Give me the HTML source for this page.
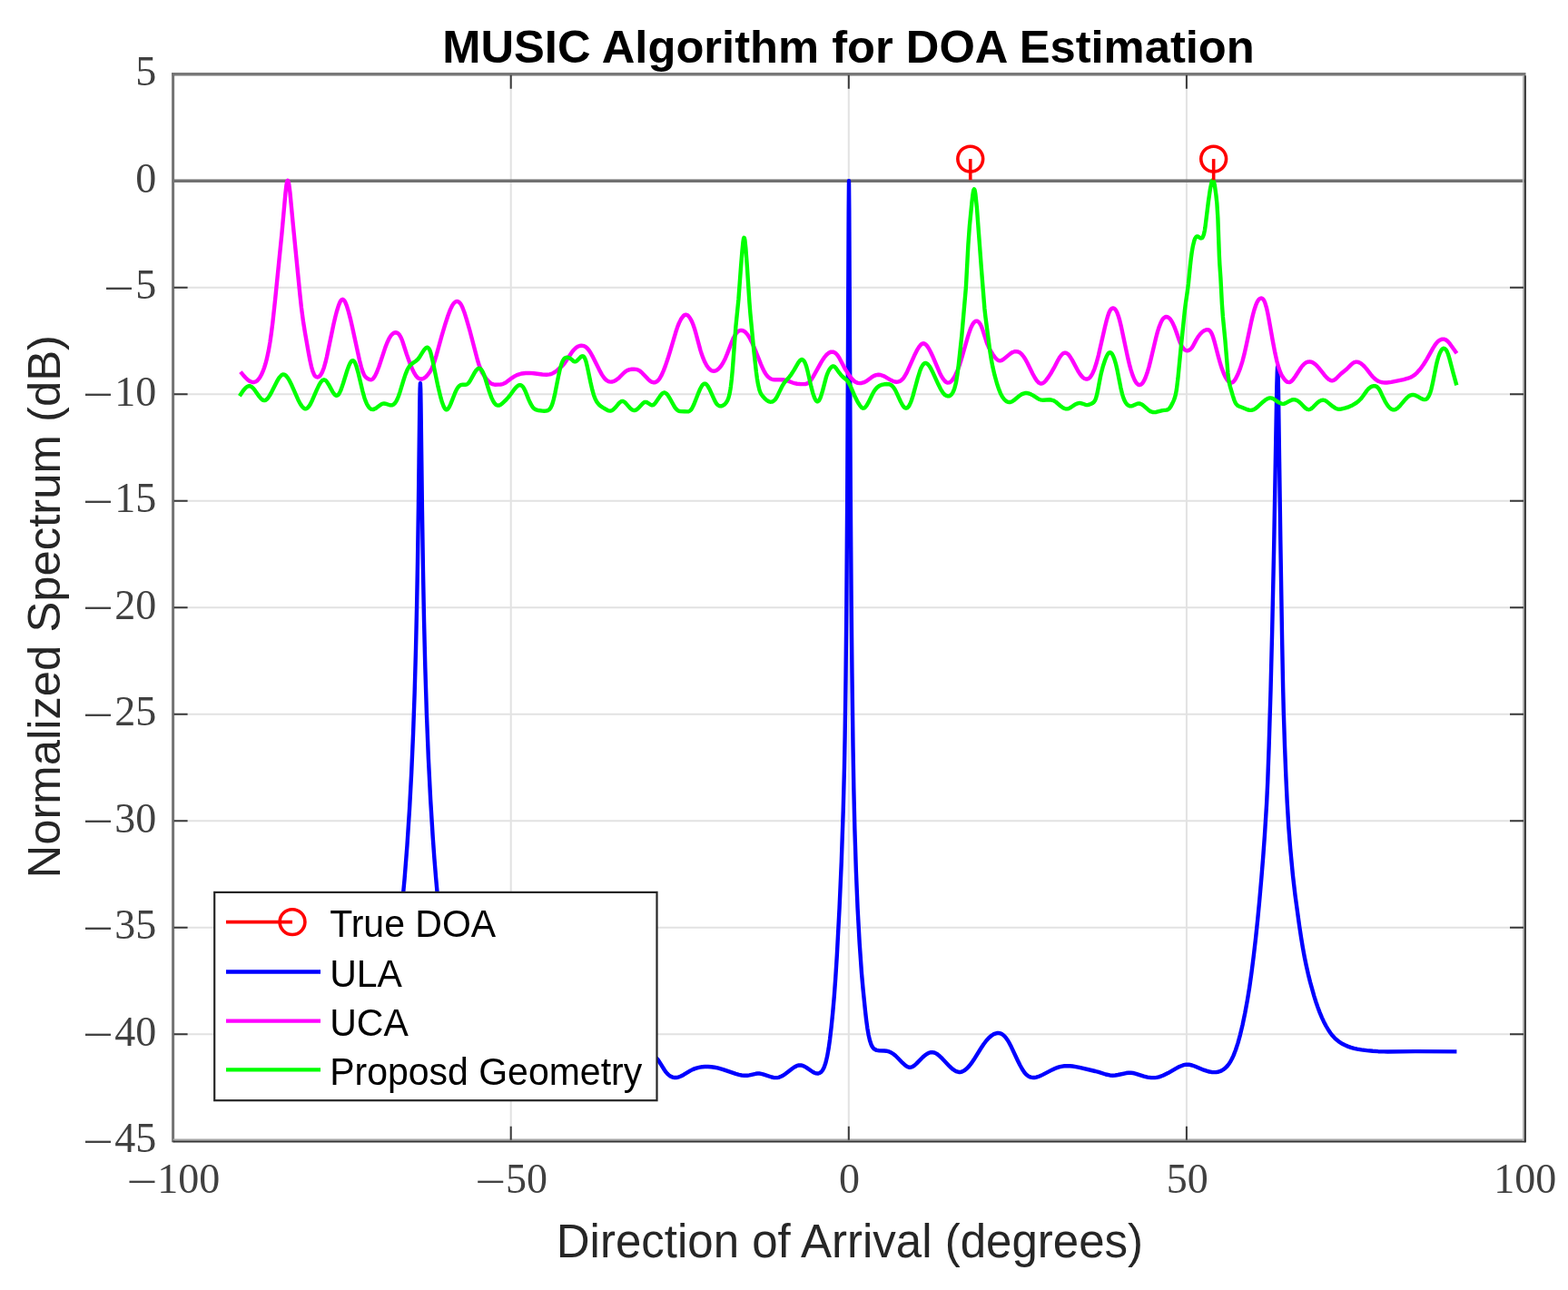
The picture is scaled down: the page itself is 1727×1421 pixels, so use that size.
<!DOCTYPE html>
<html><head><meta charset="utf-8"><title>MUSIC Algorithm for DOA Estimation</title>
<style>html,body{margin:0;padding:0;background:#fff;overflow:hidden}svg{display:block}</style>
</head><body>
<svg width="1727" height="1421" viewBox="0 0 1727 1421"><rect x="0" y="0" width="1727" height="1421" fill="#ffffff"/>
<path d="M562.70,81.80V1256.80 M934.80,81.80V1256.80 M1306.90,81.80V1256.80 M190.60,199.30H1679.00 M190.60,316.80H1679.00 M190.60,434.30H1679.00 M190.60,551.80H1679.00 M190.60,669.30H1679.00 M190.60,786.80H1679.00 M190.60,904.30H1679.00 M190.60,1021.80H1679.00 M190.60,1139.30H1679.00" stroke="#e2e2e2" stroke-width="2" fill="none"/>
<path d="M190.60,199.30H1679.00" stroke="#707070" stroke-width="3.6" fill="none"/>
<path d="M265.90,1175.00L276.40,1179.47L283.90,1182.18L287.40,1183.20L290.90,1184.02L293.90,1184.54L296.90,1184.88L301.90,1184.95L307.40,1184.38L313.40,1183.20L325.40,1180.18L330.40,1179.07L335.90,1178.23L340.40,1177.98L345.40,1178.26L350.90,1179.11L356.40,1180.35L369.90,1183.87L373.40,1184.62L376.90,1185.20L380.40,1185.55L383.90,1185.61L387.40,1185.38L390.90,1184.83L393.90,1184.07L396.40,1183.19L398.90,1182.04L401.40,1180.55L403.40,1179.05L405.40,1177.21L407.40,1174.97L408.90,1172.97L410.40,1170.65L411.90,1167.97L413.40,1164.89L414.90,1161.38L416.40,1157.40L417.90,1152.92L420.90,1142.41L423.15,1133.14L425.45,1122.45L427.75,1110.54L430.00,1097.72L432.25,1083.71L434.45,1068.79L436.55,1053.31L438.60,1036.90L442.30,1003.35L445.60,967.87L448.50,930.64L451.10,890.34L453.20,850.84L455.05,808.44L456.65,763.25L458.05,713.84L459.10,667.65L460.00,618.88L460.90,558.21L462.30,444.98L462.60,428.31L462.90,422.08L463.20,428.31L463.50,444.98L464.95,561.94L465.95,627.74L467.05,684.14L468.30,734.63L469.95,787.06L471.90,835.79L474.15,880.70L476.75,922.75L478.40,945.57L480.15,967.29L482.00,987.98L484.00,1008.22L486.15,1027.94L488.40,1046.69L490.80,1064.88L493.30,1082.13L495.95,1098.70L498.60,1113.64L501.25,1126.97L503.90,1138.63L506.40,1148.05L508.90,1155.89L511.40,1162.19L513.90,1167.04L516.40,1170.65L517.90,1172.32L519.40,1173.68L520.90,1174.77L522.40,1175.64L523.90,1176.33L525.90,1177.04L530.40,1178.05L540.40,1179.39L545.40,1180.24L561.90,1183.96L566.90,1184.96L571.90,1185.69L576.40,1186.01L581.40,1185.87L586.90,1185.10L592.40,1183.87L604.40,1180.56L609.40,1179.33L614.90,1178.37L619.40,1178.01L623.90,1178.14L628.90,1178.78L633.90,1179.77L646.40,1182.67L652.40,1183.68L655.90,1183.99L658.90,1184.04L661.90,1183.85L664.90,1183.42L667.90,1182.76L670.90,1181.91L673.90,1180.87L677.40,1179.45L681.90,1177.34L686.40,1174.98L700.40,1166.79L704.90,1164.42L707.40,1163.34L709.90,1162.49L712.40,1161.93L714.40,1161.74L716.40,1161.85L718.40,1162.36L720.40,1163.34L721.90,1164.44L723.90,1166.46L725.40,1168.42L731.90,1178.75L733.40,1180.87L734.90,1182.65L736.90,1184.50L738.90,1185.80L740.90,1186.60L742.90,1186.96L744.40,1186.98L746.40,1186.71L747.90,1186.31L749.90,1185.54L752.90,1183.99L760.40,1179.39L762.90,1178.14L765.40,1177.12L767.90,1176.32L770.90,1175.63L773.40,1175.25L776.40,1175.02L779.90,1175.00L783.40,1175.25L786.90,1175.74L790.40,1176.45L796.40,1178.14L810.40,1182.90L813.90,1183.87L816.90,1184.49L819.90,1184.81L822.90,1184.76L825.40,1184.39L832.40,1182.77L834.40,1182.53L836.40,1182.54L838.40,1182.82L840.40,1183.30L849.90,1186.49L851.90,1186.94L853.90,1187.16L855.90,1187.10L857.40,1186.83L858.90,1186.36L860.90,1185.47L862.90,1184.33L864.90,1182.99L872.40,1177.24L874.90,1175.53L877.40,1174.21L879.90,1173.47L881.40,1173.37L882.40,1173.47L883.90,1173.84L885.40,1174.45L888.40,1176.18L895.15,1180.80L897.05,1181.78L898.75,1182.33L900.80,1182.47L901.75,1182.30L902.65,1181.97L904.35,1180.82L905.85,1179.07L906.85,1177.40L907.75,1175.47L909.45,1170.49L911.05,1163.82L912.60,1155.19L914.10,1144.61L915.65,1131.35L917.20,1115.75L918.75,1097.82L920.25,1077.25L921.80,1052.69L924.55,1000.33L926.80,949.06L928.70,893.34L929.95,845.65L930.60,811.30L931.50,747.37L932.25,675.08L933.20,546.72L934.70,231.64L935.00,199.30L935.30,231.64L936.75,538.04L937.65,662.07L938.45,741.16L939.50,822.05L940.30,867.49L941.35,912.19L942.90,960.36L944.60,1000.95L946.65,1038.40L949.05,1072.68L950.60,1090.00L953.00,1113.60L954.15,1123.78L955.30,1132.30L956.60,1139.96L958.00,1146.06L959.50,1150.54L960.30,1152.24L961.15,1153.64L962.10,1154.81L963.15,1155.73L964.30,1156.42L965.65,1156.92L968.40,1157.37L973.95,1157.50L976.40,1157.73L978.90,1158.34L981.40,1159.43L983.90,1161.00L986.40,1163.03L988.90,1165.46L993.90,1170.73L996.90,1173.44L999.40,1175.03L1000.90,1175.57L1001.90,1175.73L1002.90,1175.69L1004.40,1175.29L1005.40,1174.80L1006.90,1173.80L1009.40,1171.60L1016.40,1164.51L1018.90,1162.35L1020.90,1160.94L1022.90,1159.88L1024.90,1159.24L1026.90,1159.09L1028.40,1159.34L1029.90,1159.88L1031.40,1160.67L1032.90,1161.68L1034.90,1163.31L1037.90,1166.20L1045.90,1174.65L1047.90,1176.54L1049.90,1178.18L1051.90,1179.51L1053.90,1180.46L1055.90,1180.96L1057.40,1180.99L1058.40,1180.84L1059.90,1180.39L1062.40,1179.04L1064.90,1177.01L1067.40,1174.37L1069.90,1171.20L1072.40,1167.58L1080.40,1154.76L1083.40,1150.24L1086.40,1146.29L1089.40,1143.02L1092.40,1140.50L1093.90,1139.55L1095.40,1138.81L1096.90,1138.30L1098.40,1138.02L1099.90,1137.99L1100.90,1138.12L1102.40,1138.56L1103.40,1139.03L1105.40,1140.43L1107.40,1142.48L1109.90,1146.00L1111.90,1149.45L1113.90,1153.32L1120.90,1168.19L1123.40,1173.25L1125.90,1177.75L1128.40,1181.45L1130.40,1183.68L1131.40,1184.55L1132.90,1185.59L1133.90,1186.11L1135.40,1186.66L1137.90,1187.03L1139.40,1186.98L1141.40,1186.65L1144.90,1185.50L1148.40,1183.87L1158.90,1178.40L1161.90,1177.03L1164.90,1175.86L1167.40,1175.10L1169.90,1174.56L1172.40,1174.24L1175.40,1174.11L1178.40,1174.21L1181.40,1174.50L1184.90,1175.05L1188.90,1175.86L1206.40,1180.00L1209.90,1180.97L1217.90,1183.48L1222.40,1184.47L1225.40,1184.70L1228.40,1184.51L1231.40,1184.00L1240.40,1182.03L1242.90,1181.73L1245.40,1181.70L1247.90,1181.98L1250.40,1182.53L1259.90,1185.55L1263.90,1186.56L1267.90,1187.13L1271.90,1187.13L1273.90,1186.88L1276.40,1186.33L1280.90,1184.77L1286.40,1182.10L1295.40,1176.87L1298.90,1175.02L1302.90,1173.42L1304.90,1172.91L1306.40,1172.69L1307.90,1172.62L1309.40,1172.72L1312.90,1173.48L1315.90,1174.55L1325.90,1178.68L1328.90,1179.70L1331.90,1180.50L1334.40,1180.96L1336.90,1181.17L1339.40,1181.08L1341.40,1180.77L1343.40,1180.21L1345.40,1179.36L1347.40,1178.20L1348.90,1177.08L1350.90,1175.21L1352.40,1173.48L1353.90,1171.44L1355.40,1169.06L1356.90,1166.29L1358.40,1163.10L1360.90,1156.78L1363.40,1149.10L1365.90,1140.07L1368.55,1128.98L1371.20,1116.26L1373.85,1101.82L1376.25,1087.04L1378.45,1071.45L1380.75,1053.26L1383.05,1033.42L1385.15,1013.41L1387.25,991.40L1389.30,967.88L1391.25,943.51L1392.95,919.90L1395.10,885.07L1396.20,861.92L1397.65,821.56L1399.55,759.36L1401.15,695.33L1403.10,605.44L1406.25,428.60L1406.75,409.96L1407.00,405.19L1407.20,403.98L1407.35,405.06L1407.55,409.73L1407.95,428.32L1410.30,594.84L1412.10,704.31L1413.10,756.43L1413.80,784.11L1415.10,823.57L1416.35,855.28L1417.70,883.74L1419.30,910.50L1421.15,934.59L1423.95,964.20L1426.55,986.58L1431.10,1019.75L1433.05,1032.68L1434.85,1043.63L1436.70,1053.73L1438.70,1063.55L1440.80,1072.85L1443.05,1081.86L1447.40,1097.34L1449.40,1103.73L1451.40,1109.56L1453.40,1114.88L1455.90,1120.87L1457.90,1125.17L1460.40,1129.99L1462.90,1134.26L1465.40,1137.99L1467.40,1140.56L1469.90,1143.30L1472.40,1145.60L1475.40,1147.89L1478.40,1149.76L1481.40,1151.31L1484.40,1152.62L1487.90,1153.88L1491.40,1154.87L1494.90,1155.62L1499.40,1156.36L1505.40,1157.12L1511.90,1157.75L1517.90,1158.18L1528.40,1158.48L1558.90,1158.09L1604.40,1158.38" stroke="#0000ff" stroke-width="4.4" fill="none" stroke-linejoin="round" stroke-linecap="butt"/>
<path d="M264.90,409.60L267.90,413.21L270.40,415.98L272.40,417.89L274.40,419.44L276.40,420.51L277.90,420.95L278.90,421.05L279.90,420.97L281.40,420.49L282.40,419.93L283.40,419.15L284.90,417.56L286.40,415.43L287.90,412.74L289.40,409.43L290.90,405.48L292.40,400.79L293.90,395.15L295.90,385.75L297.40,377.00L298.90,366.61L300.40,354.67L302.90,331.81L310.40,257.30L314.40,212.96L315.40,204.36L315.90,201.38L316.40,199.52L316.90,198.94L317.40,199.59L317.90,201.33L318.40,204.02L319.40,211.72L322.90,248.61L330.40,324.59L331.90,338.46L333.90,353.66L335.90,366.18L339.90,388.83L341.40,396.73L342.90,403.56L344.40,408.84L345.90,412.41L346.40,413.26L347.40,414.51L348.40,415.23L349.40,415.49L350.40,415.37L351.40,414.88L352.40,413.99L353.40,412.69L354.40,410.97L355.40,408.79L356.90,404.66L358.40,399.43L359.90,393.24L367.40,357.32L369.40,348.74L370.90,343.01L372.90,336.57L374.40,332.92L375.40,331.20L375.90,330.58L376.90,329.87L377.40,329.80L377.90,329.92L378.90,330.71L379.40,331.37L380.40,333.14L381.90,336.84L383.90,343.35L385.90,351.12L387.90,359.73L395.90,396.55L397.90,404.35L399.40,409.13L400.90,412.70L401.90,414.33L402.90,415.48L403.90,416.30L405.90,417.52L407.40,418.17L408.40,418.32L409.40,418.14L409.90,417.90L411.40,416.55L412.90,414.36L414.90,410.30L417.40,403.74L424.40,382.61L426.40,377.50L428.40,373.22L430.40,369.92L431.90,368.16L433.40,366.98L434.40,366.52L435.40,366.30L436.90,366.45L438.40,367.26L439.90,368.85L441.40,371.35L442.40,373.58L443.40,376.26L447.90,390.29L451.40,400.03L453.40,404.95L454.90,408.28L456.40,411.20L457.90,413.60L458.90,414.88L460.40,416.31L461.40,416.95L462.90,417.49L464.40,417.54L465.90,417.15L467.40,416.34L468.90,415.17L471.40,412.50L473.90,408.97L475.90,405.16L477.40,401.51L478.90,397.10L480.40,392.12L486.40,370.44L489.90,358.52L493.40,347.72L495.90,341.13L497.90,336.93L498.90,335.28L499.90,333.96L500.90,332.98L501.90,332.33L502.90,332.01L503.40,331.98L504.40,332.17L505.40,332.72L506.40,333.63L507.40,334.92L508.40,336.61L509.40,338.71L511.40,343.93L513.90,351.80L517.40,363.99L525.90,396.48L527.90,402.88L529.90,407.91L531.40,410.93L533.40,414.23L535.90,417.65L537.90,419.95L539.90,421.75L541.40,422.71L543.40,423.44L545.40,423.71L548.90,423.67L551.40,423.47L553.40,423.07L554.90,422.54L556.40,421.78L557.90,420.83L563.90,416.28L566.90,414.39L568.90,413.39L570.90,412.58L574.90,411.49L578.90,410.97L583.40,410.92L587.90,411.27L597.40,412.47L601.90,412.70L605.40,412.38L606.90,412.00L608.40,411.44L610.90,410.03L613.40,408.18L617.40,404.80L619.90,402.33L621.40,400.58L622.90,398.56L629.90,387.99L631.90,385.50L633.40,383.94L635.40,382.33L636.90,381.50L638.40,381.00L640.40,380.76L641.90,380.89L642.90,381.12L644.90,382.04L646.40,383.21L648.40,385.51L650.40,388.54L652.40,392.09L659.90,407.09L662.90,412.59L664.40,414.92L665.90,416.85L667.40,418.35L669.40,419.74L670.90,420.35L672.90,420.63L674.40,420.48L676.40,419.86L678.40,418.78L680.40,417.32L682.40,415.52L687.40,410.54L689.90,408.61L691.40,407.82L693.40,407.15L695.90,406.76L698.40,406.67L700.40,406.86L701.90,407.22L703.40,407.83L704.90,408.73L707.40,410.90L713.90,417.84L715.40,419.16L716.90,420.23L718.40,420.97L719.40,421.24L720.90,421.29L721.90,421.06L723.40,420.30L724.40,419.50L725.40,418.46L726.40,417.15L728.40,413.73L730.90,408.15L732.90,402.88L735.40,395.56L738.40,385.93L744.40,365.51L746.40,359.60L747.90,355.87L749.90,351.86L751.90,348.93L752.90,347.88L753.90,347.14L754.90,346.75L755.40,346.69L755.90,346.73L756.90,347.08L758.40,348.28L759.90,350.23L761.90,353.90L763.40,357.50L764.90,361.86L766.40,366.98L771.40,385.57L772.90,390.30L774.40,394.43L776.40,399.06L778.40,402.73L780.40,405.52L781.40,406.58L782.90,407.79L783.90,408.33L785.40,408.76L786.90,408.75L788.40,408.31L789.40,407.79L790.90,406.69L792.40,405.23L793.90,403.43L796.40,399.62L798.90,394.69L800.90,389.90L806.40,375.54L807.90,372.23L809.40,369.42L811.40,366.54L812.90,365.08L813.90,364.45L814.90,364.06L815.90,363.90L816.90,363.93L818.40,364.32L819.40,364.80L821.40,366.33L823.40,368.67L825.40,371.84L827.90,376.67L830.90,383.30L837.90,400.79L840.40,406.57L841.90,409.50L843.40,411.96L844.90,413.97L846.40,415.54L848.40,417.00L849.40,417.48L850.90,417.94L853.40,418.22L860.40,418.20L863.90,418.54L867.40,419.39L872.90,421.51L874.90,422.15L877.90,422.73L881.40,423.00L885.40,423.16L887.40,423.01L888.40,422.74L889.40,422.31L890.40,421.68L891.40,420.80L893.40,418.42L895.40,415.39L904.40,399.19L906.40,395.94L908.40,393.10L910.40,390.77L912.40,389.04L914.40,387.97L915.40,387.69L916.40,387.59L917.90,387.80L919.40,388.47L920.90,389.62L922.40,391.29L923.40,392.69L924.90,395.20L929.40,403.84L931.40,407.42L935.40,413.66L937.40,416.31L939.40,418.53L941.40,420.23L943.40,421.34L944.90,421.84L946.90,422.10L948.90,421.97L950.90,421.47L952.40,420.87L954.40,419.76L959.90,415.70L962.40,414.14L964.90,413.16L967.40,412.78L969.90,413.03L972.90,414.04L975.40,415.31L981.40,418.84L984.40,420.15L985.90,420.53L987.40,420.70L988.90,420.62L990.40,420.24L991.90,419.50L993.40,418.35L994.90,416.70L996.40,414.52L997.90,411.89L999.40,408.91L1006.90,392.08L1010.40,385.07L1012.40,381.87L1013.90,380.03L1015.40,378.80L1016.40,378.38L1016.90,378.30L1017.40,378.31L1018.40,378.62L1019.90,379.72L1021.40,381.49L1023.40,384.66L1024.90,387.50L1026.90,391.73L1034.90,410.46L1036.90,414.44L1038.40,416.93L1040.40,419.49L1041.90,420.78L1042.90,421.32L1043.90,421.58L1045.40,421.42L1046.40,420.96L1047.40,420.23L1048.40,419.24L1049.40,418.01L1051.40,414.86L1053.40,410.85L1055.40,405.99L1057.90,398.74L1059.90,392.13L1065.90,371.14L1067.40,366.39L1068.90,362.20L1070.40,358.77L1071.90,356.20L1073.40,354.51L1074.40,353.86L1075.40,353.60L1076.40,353.72L1076.90,353.93L1077.90,354.67L1078.90,355.85L1079.90,357.48L1080.90,359.60L1081.90,362.20L1086.40,376.17L1087.40,378.90L1088.90,382.38L1090.90,386.17L1093.40,390.18L1095.40,393.07L1097.40,395.41L1098.90,396.63L1099.90,397.12L1100.90,397.33L1102.40,397.19L1103.90,396.60L1105.40,395.67L1112.40,389.82L1113.90,388.78L1115.40,387.96L1117.40,387.28L1118.90,387.10L1120.90,387.35L1122.40,387.95L1123.90,388.92L1124.90,389.80L1126.40,391.47L1127.90,393.53L1129.40,395.92L1131.40,399.54L1137.40,411.70L1139.90,416.25L1141.40,418.53L1142.40,419.82L1143.90,421.34L1144.90,422.05L1145.90,422.47L1146.90,422.60L1148.40,422.21L1149.90,421.22L1151.90,419.17L1154.90,415.13L1157.90,410.45L1160.90,405.15L1165.40,396.58L1167.40,393.24L1168.90,391.22L1170.40,389.73L1171.90,388.83L1172.90,388.59L1173.90,388.67L1175.40,389.38L1176.90,390.71L1178.40,392.57L1180.90,396.59L1187.40,408.71L1189.40,411.86L1190.90,413.87L1192.90,415.95L1194.40,417.00L1195.90,417.56L1197.40,417.57L1198.40,417.25L1199.40,416.66L1200.40,415.77L1201.40,414.58L1202.40,413.07L1203.40,411.23L1205.40,406.55L1207.40,400.55L1209.90,391.32L1216.90,360.55L1218.40,354.41L1219.90,348.98L1221.40,344.58L1222.90,341.54L1223.40,340.86L1224.40,339.95L1224.90,339.69L1225.90,339.49L1226.90,339.69L1227.40,339.95L1228.40,340.84L1228.90,341.48L1230.40,344.29L1231.90,348.43L1233.40,353.70L1234.90,359.88L1241.90,392.88L1243.90,401.33L1245.40,406.91L1247.40,413.15L1249.40,418.01L1250.40,419.92L1251.40,421.48L1252.40,422.67L1253.40,423.49L1254.40,423.94L1255.40,424.00L1256.40,423.68L1257.40,422.99L1258.40,421.91L1259.40,420.46L1260.40,418.65L1261.40,416.48L1263.40,411.08L1265.40,404.34L1267.40,396.48L1273.40,371.22L1274.90,365.67L1276.40,360.84L1278.40,355.67L1279.40,353.64L1280.40,351.98L1281.40,350.71L1282.40,349.81L1283.40,349.25L1284.40,349.01L1285.90,349.21L1287.40,350.07L1288.90,351.58L1290.40,353.74L1291.90,356.53L1293.40,359.91L1294.90,363.83L1298.90,375.22L1300.90,379.90L1302.40,382.56L1303.40,383.94L1304.90,385.40L1306.40,386.15L1307.90,386.27L1309.40,385.89L1310.90,385.02L1312.40,383.54L1313.90,381.31L1317.40,374.61L1319.40,371.29L1321.90,367.96L1324.40,365.50L1326.40,364.15L1327.90,363.50L1328.90,363.23L1329.90,363.14L1330.90,363.32L1331.90,363.83L1332.40,364.24L1333.40,365.40L1334.40,367.10L1335.40,369.40L1336.40,372.28L1337.90,377.44L1341.90,392.91L1343.90,400.02L1345.90,406.30L1347.90,411.55L1349.90,415.70L1350.90,417.37L1352.40,419.37L1353.40,420.37L1354.40,421.09L1355.40,421.49L1356.40,421.56L1357.40,421.26L1358.40,420.58L1359.40,419.52L1360.90,417.30L1363.40,412.26L1365.90,405.91L1368.40,398.05L1370.40,390.40L1372.90,379.31L1378.40,353.38L1379.90,347.04L1381.40,341.46L1383.40,335.52L1384.40,333.23L1385.40,331.38L1386.90,329.48L1387.90,328.78L1388.90,328.50L1389.90,328.66L1390.40,328.93L1391.40,329.87L1391.90,330.58L1392.90,332.53L1393.40,333.79L1394.90,338.83L1395.90,343.17L1397.40,350.72L1401.90,376.01L1404.40,389.06L1406.40,398.00L1408.40,405.27L1410.40,410.70L1411.40,412.81L1412.90,415.39L1414.40,417.50L1415.90,419.20L1417.40,420.42L1418.40,420.91L1419.90,421.08L1420.90,420.79L1422.40,419.82L1423.90,418.33L1426.40,415.00L1432.90,404.97L1434.40,403.02L1435.90,401.40L1437.40,400.13L1438.90,399.21L1440.40,398.63L1442.40,398.39L1443.90,398.61L1445.40,399.15L1446.90,399.99L1448.90,401.52L1450.40,402.94L1452.40,405.13L1458.40,412.69L1460.90,415.57L1463.40,417.83L1464.90,418.74L1465.90,419.12L1466.90,419.29L1467.90,419.22L1468.90,418.91L1470.40,418.03L1472.40,416.32L1476.90,411.80L1483.40,406.44L1487.90,401.90L1489.40,400.54L1490.90,399.52L1491.90,399.04L1493.40,398.65L1494.40,398.60L1495.90,398.86L1497.90,399.72L1499.40,400.70L1501.40,402.36L1502.90,403.84L1504.90,406.11L1509.90,412.62L1511.90,414.99L1514.40,417.39L1516.90,419.18L1518.40,419.97L1519.90,420.57L1521.40,421.00L1523.40,421.35L1525.40,421.49L1527.40,421.47L1532.40,420.88L1545.90,418.04L1550.90,416.70L1553.40,415.75L1555.40,414.75L1557.40,413.45L1558.90,412.24L1560.90,410.32L1563.40,407.52L1565.90,404.33L1567.90,401.48L1571.40,395.81L1578.40,383.35L1580.90,379.47L1582.40,377.55L1583.40,376.47L1584.90,375.19L1586.40,374.29L1588.40,373.66L1589.40,373.58L1590.40,373.68L1591.40,373.94L1592.40,374.38L1593.90,375.39L1595.40,376.83L1596.90,378.67L1604.50,389.30" stroke="#ff00ff" stroke-width="4.4" fill="none" stroke-linejoin="round" stroke-linecap="butt"/>
<path d="M263.90,436.20L267.90,430.30L270.40,427.38L271.90,426.12L272.90,425.55L274.40,425.14L275.40,425.22L276.90,425.90L277.90,426.69L278.90,427.70L280.90,430.22L285.40,436.63L286.90,438.48L287.90,439.51L289.40,440.63L290.40,441.04L291.40,441.11L292.40,440.83L293.40,440.20L294.40,439.28L295.40,438.08L296.90,435.87L299.40,431.36L304.90,420.42L306.40,417.80L307.90,415.58L309.40,413.87L310.40,413.08L311.40,412.62L311.90,412.51L312.90,412.59L313.90,413.03L315.40,414.29L316.90,416.18L318.40,418.60L321.40,424.59L328.40,440.39L329.90,443.34L331.40,445.90L332.90,447.97L334.40,449.44L335.90,450.21L336.90,450.27L337.40,450.16L338.40,449.63L339.40,448.71L340.40,447.45L341.40,445.89L343.90,440.98L348.90,429.37L351.40,424.11L352.90,421.56L353.90,420.20L354.90,419.18L355.90,418.53L356.90,418.31L357.90,418.56L358.90,419.27L359.90,420.37L361.90,423.42L366.40,431.60L367.40,433.12L368.40,434.37L369.40,435.26L370.40,435.72L371.40,435.66L372.40,435.02L372.90,434.46L373.90,432.91L374.90,430.85L375.90,428.38L377.90,422.51L382.40,407.99L384.40,402.55L385.40,400.38L386.40,398.70L387.40,397.59L388.40,397.14L388.90,397.19L389.40,397.43L390.40,398.55L391.40,400.50L392.40,403.15L394.40,410.07L399.40,430.99L401.40,438.18L402.40,441.11L403.90,444.70L404.90,446.60L406.40,448.75L407.40,449.76L408.40,450.45L409.40,450.86L410.90,450.98L411.90,450.77L413.40,450.09L414.90,449.09L419.40,445.69L420.90,444.90L421.90,444.60L422.90,444.51L424.40,444.70L429.40,446.25L430.90,446.38L431.90,446.23L433.40,445.54L434.90,444.19L436.40,442.06L437.90,439.04L438.90,436.51L440.40,432.11L444.40,419.01L446.40,412.93L448.40,407.85L449.90,404.98L451.40,402.87L452.90,401.34L454.40,400.17L458.40,397.45L460.40,395.59L462.40,392.92L465.90,387.16L467.40,385.00L468.90,383.42L469.90,382.84L470.40,382.73L470.90,382.78L471.40,382.98L472.40,383.97L473.40,385.84L474.40,388.72L476.40,396.92L482.40,425.59L485.40,437.90L486.90,443.01L488.40,447.10L489.90,449.93L490.90,450.99L491.40,451.24L491.90,451.30L492.40,451.16L492.90,450.84L493.90,449.73L494.90,448.07L496.40,444.84L501.40,432.26L502.90,429.11L504.40,426.68L505.90,425.08L507.40,424.16L508.40,423.85L509.40,423.71L512.40,423.74L513.40,423.59L514.40,423.21L515.40,422.51L516.40,421.43L517.90,419.24L522.40,411.07L524.40,408.01L525.40,406.87L526.40,406.09L527.40,405.72L527.90,405.71L528.90,406.08L529.90,406.93L530.90,408.27L531.90,410.06L532.90,412.31L533.90,414.99L538.90,431.29L541.40,438.12L542.90,441.29L544.40,443.75L545.90,445.48L546.90,446.20L548.40,446.66L549.90,446.48L551.40,445.78L553.40,444.28L556.90,440.91L559.90,437.63L562.40,434.50L566.40,429.01L568.40,426.63L569.90,425.26L570.90,424.62L571.90,424.25L572.90,424.18L573.90,424.43L574.90,425.05L575.90,426.06L576.90,427.49L578.90,431.57L582.40,440.31L583.90,443.64L585.90,447.29L586.90,448.71L587.90,449.81L588.90,450.63L589.90,451.19L591.40,451.70L592.90,451.97L597.40,452.60L599.40,452.73L601.40,452.59L603.40,452.02L604.90,451.13L605.90,450.08L606.40,449.37L607.90,446.24L608.90,443.21L609.90,439.49L611.40,432.90L614.90,415.15L616.40,408.21L617.40,404.32L618.40,401.07L619.40,398.46L620.40,396.50L621.40,395.15L622.40,394.30L623.90,393.75L625.40,393.76L626.90,394.20L627.90,394.72L628.90,395.43L631.90,398.01L632.90,398.42L633.90,398.36L634.90,397.88L635.90,397.08L638.90,393.91L639.90,393.01L640.90,392.43L641.40,392.30L642.40,392.49L643.40,393.40L644.40,395.21L645.40,398.07L646.90,404.12L650.40,420.99L652.40,429.64L653.90,434.89L654.90,437.69L655.90,440.02L656.90,441.94L658.40,444.20L659.40,445.39L660.90,446.84L662.40,447.97L663.90,448.90L668.40,451.49L670.40,452.39L671.90,452.66L672.90,452.56L673.90,452.19L674.90,451.60L675.90,450.80L677.40,449.31L680.90,445.13L682.40,443.54L683.90,442.38L684.90,441.97L685.40,441.90L686.40,442.05L687.90,442.92L689.40,444.35L692.90,448.41L694.40,449.95L696.40,451.46L697.90,452.04L699.40,452.00L700.40,451.63L701.40,451.04L703.40,449.32L707.90,444.46L709.40,443.30L710.40,442.87L711.40,442.83L712.40,443.13L716.90,446.01L717.90,446.32L718.90,446.28L719.40,446.09L720.40,445.43L721.90,443.83L726.90,436.44L728.90,433.99L730.40,432.84L731.40,432.51L731.90,432.51L732.40,432.62L733.40,433.13L734.40,434.00L735.40,435.17L737.40,438.23L742.90,448.13L744.40,450.20L745.90,451.65L747.40,452.54L749.40,453.09L753.90,453.18L756.90,453.39L758.40,453.21L759.40,452.80L760.40,452.07L761.40,450.94L762.40,449.38L764.40,445.23L769.40,432.50L771.40,427.97L772.90,425.27L773.90,423.92L774.90,423.01L775.90,422.60L776.90,422.73L777.90,423.36L778.90,424.42L779.90,425.86L781.90,429.57L786.90,440.64L788.40,443.44L789.40,444.93L790.40,446.03L791.90,447.01L793.40,447.32L794.40,447.25L795.40,447.02L796.90,446.35L798.40,445.18L799.90,443.38L801.40,440.81L802.40,438.27L803.40,434.53L804.40,429.15L804.90,425.69L805.90,417.16L806.90,406.46L810.40,359.60L813.40,330.00L815.90,295.72L817.40,277.00L818.40,266.88L818.90,263.48L819.40,261.79L819.90,262.19L820.40,264.55L821.40,273.80L822.90,294.14L825.40,332.80L826.40,345.36L830.40,387.14L832.90,409.79L833.90,417.08L834.90,423.08L836.40,429.44L837.40,432.23L838.40,434.21L839.90,436.28L841.90,438.54L843.90,440.42L845.40,441.52L846.90,442.30L848.40,442.70L849.90,442.66L850.90,442.36L852.40,441.45L853.40,440.51L854.40,439.28L855.90,436.87L860.90,426.49L861.90,424.60L863.40,422.21L865.40,419.64L869.40,415.19L871.40,412.56L874.40,407.88L878.90,400.08L880.40,397.90L881.90,396.44L882.90,396.02L883.40,396.01L884.40,396.43L885.40,397.47L886.40,399.15L887.40,401.50L888.40,404.55L889.40,408.31L893.40,425.87L895.40,433.35L896.90,437.73L897.90,439.92L898.90,441.45L899.90,442.22L900.40,442.30L900.90,442.16L901.90,441.28L902.90,439.64L903.90,437.32L905.90,430.93L909.90,415.68L910.90,412.61L912.40,409.00L913.90,406.40L915.40,404.59L916.90,403.53L917.90,403.37L918.90,403.75L919.90,404.60L921.40,406.48L924.40,410.74L926.40,413.21L928.40,415.26L932.40,418.55L933.40,419.62L934.40,420.96L936.40,424.71L940.90,435.22L943.90,441.29L945.90,444.80L947.40,447.09L948.90,448.81L949.90,449.49L950.90,449.71L951.90,449.43L952.90,448.69L954.40,446.89L956.40,443.49L960.90,434.25L962.40,431.50L963.90,429.24L965.90,426.97L966.90,426.10L968.40,425.08L970.90,423.96L973.90,423.29L977.40,423.07L979.40,423.28L980.90,423.82L982.40,424.85L983.90,426.46L985.40,428.62L986.90,431.30L991.90,442.28L993.90,446.08L995.40,448.19L996.40,449.13L997.40,449.63L998.40,449.64L999.40,449.15L1000.40,448.15L1001.40,446.68L1002.90,443.62L1003.90,441.02L1005.40,436.39L1010.90,416.17L1013.40,408.12L1014.40,405.60L1015.90,402.70L1016.90,401.35L1017.40,400.85L1018.40,400.19L1019.40,399.97L1019.90,400.02L1020.90,400.43L1022.40,401.74L1023.90,403.73L1025.40,406.25L1026.90,409.14L1033.40,423.33L1035.90,428.33L1038.40,432.37L1039.40,433.61L1040.90,435.05L1042.40,435.97L1043.90,436.38L1045.40,436.26L1046.90,435.51L1048.40,433.94L1049.40,432.35L1050.40,430.27L1051.40,427.57L1052.90,421.79L1054.40,413.00L1055.90,400.87L1059.40,368.44L1063.90,316.53L1066.40,269.26L1067.90,248.76L1070.40,223.28L1071.40,214.53L1071.90,211.28L1072.40,209.14L1072.90,208.37L1073.40,209.04L1073.90,211.01L1074.40,214.12L1075.90,228.70L1080.90,295.95L1084.40,340.00L1085.40,349.09L1090.40,387.04L1091.90,396.54L1093.40,404.34L1095.40,412.92L1097.90,422.03L1099.90,428.17L1101.90,433.17L1103.90,436.99L1105.90,439.74L1107.40,441.22L1108.40,441.95L1109.40,442.50L1110.40,442.85L1111.40,443.02L1112.40,443.00L1113.40,442.80L1114.90,442.17L1116.40,441.22L1122.40,436.25L1124.90,434.58L1126.40,433.84L1127.90,433.32L1129.40,433.03L1130.90,432.99L1132.90,433.33L1135.40,434.30L1137.90,435.70L1142.90,438.92L1144.40,439.72L1145.90,440.30L1147.40,440.62L1148.90,440.71L1155.90,440.31L1157.90,440.54L1159.90,441.10L1161.40,441.79L1162.90,442.75L1168.40,447.46L1169.90,448.59L1171.90,449.73L1173.90,450.35L1174.90,450.43L1175.90,450.34L1177.40,449.87L1179.40,448.77L1184.40,445.45L1186.40,444.51L1187.90,444.09L1189.40,443.97L1190.40,444.09L1191.90,444.51L1195.40,445.79L1196.90,446.08L1197.90,446.08L1198.90,445.91L1201.40,445.01L1203.40,444.04L1204.90,442.80L1205.90,441.31L1206.90,439.03L1207.90,435.72L1208.90,431.29L1211.90,415.49L1212.90,410.86L1214.90,403.28L1216.90,397.19L1218.90,392.27L1219.90,390.43L1220.90,389.11L1221.90,388.39L1222.40,388.27L1223.40,388.50L1223.90,388.86L1224.90,390.03L1225.90,391.80L1227.40,395.56L1228.90,400.61L1230.40,406.87L1234.40,427.16L1235.90,433.60L1236.90,437.00L1238.40,440.91L1239.90,443.66L1241.40,445.53L1242.40,446.39L1243.40,446.97L1244.40,447.29L1245.90,447.36L1247.90,446.84L1251.40,445.22L1252.90,444.69L1254.40,444.50L1255.90,444.77L1257.40,445.43L1258.90,446.41L1264.40,451.20L1266.40,452.70L1267.90,453.49L1269.90,454.05L1271.40,454.16L1273.40,453.97L1280.40,452.09L1284.90,451.65L1286.40,451.11L1287.90,449.91L1289.40,447.86L1291.40,444.10L1292.90,440.83L1293.90,438.13L1294.90,434.38L1295.90,428.99L1297.40,416.84L1300.40,385.71L1304.90,342.02L1305.90,333.97L1307.90,320.37L1308.90,312.50L1310.90,292.43L1311.90,283.58L1312.90,276.52L1313.90,270.91L1315.40,264.89L1316.40,262.38L1317.40,260.92L1317.90,260.55L1318.40,260.38L1318.90,260.39L1319.90,260.80L1322.40,262.33L1322.90,262.44L1323.40,262.37L1323.90,262.11L1324.40,261.61L1324.90,260.82L1325.90,258.17L1326.90,253.60L1327.40,250.44L1330.90,222.11L1332.90,208.33L1334.40,201.17L1334.90,199.65L1335.40,198.71L1335.90,198.40L1336.40,198.80L1336.90,199.96L1337.90,204.36L1339.40,215.00L1340.40,224.58L1341.40,241.00L1342.90,282.35L1343.40,291.79L1344.40,306.40L1345.90,335.00L1346.90,348.96L1349.40,374.61L1352.40,410.88L1352.90,415.38L1353.90,421.77L1354.90,425.87L1357.90,436.09L1359.40,440.77L1360.40,443.15L1361.40,444.89L1362.90,446.58L1364.40,447.49L1367.90,448.71L1373.90,451.24L1376.40,451.84L1377.90,451.91L1378.90,451.79L1380.90,451.11L1383.40,449.56L1385.90,447.49L1391.40,442.43L1394.40,440.10L1396.90,438.78L1398.40,438.39L1399.40,438.34L1400.90,438.62L1402.40,439.28L1407.40,442.64L1409.40,443.81L1411.40,444.60L1412.90,444.83L1414.40,444.70L1415.90,444.20L1420.90,441.42L1422.90,440.52L1424.90,440.16L1426.90,440.43L1428.90,441.29L1430.90,442.69L1432.40,444.07L1436.40,448.27L1438.40,450.02L1439.90,450.88L1441.40,451.20L1442.90,450.88L1443.90,450.35L1444.90,449.63L1446.40,448.29L1450.90,443.74L1453.40,441.85L1454.90,441.11L1455.90,440.81L1456.90,440.69L1457.90,440.74L1459.40,441.20L1461.40,442.36L1467.90,447.68L1470.90,449.64L1472.40,450.31L1473.90,450.70L1475.40,450.79L1476.90,450.64L1481.90,449.43L1485.90,448.05L1489.90,446.17L1493.90,443.75L1496.40,441.81L1498.90,439.29L1500.90,436.73L1505.40,430.39L1506.90,428.61L1507.90,427.63L1509.40,426.48L1510.90,425.71L1512.40,425.29L1513.90,425.20L1515.40,425.50L1516.40,425.99L1517.90,427.31L1518.90,428.65L1520.40,431.37L1523.40,437.86L1525.40,441.85L1527.40,445.26L1529.40,448.00L1531.40,449.97L1532.90,450.93L1533.90,451.30L1534.90,451.44L1536.40,451.24L1537.40,450.83L1538.40,450.23L1540.40,448.57L1542.40,446.45L1547.90,439.93L1549.90,437.89L1551.90,436.32L1553.90,435.30L1554.90,435.02L1555.90,434.90L1556.90,434.95L1558.40,435.30L1560.90,436.43L1565.90,439.30L1567.40,439.89L1568.40,440.12L1569.40,440.14L1570.40,439.90L1571.40,439.32L1572.40,438.33L1573.40,436.85L1574.40,434.82L1575.40,432.16L1576.40,428.80L1577.90,422.34L1581.90,402.13L1582.90,397.97L1584.40,392.75L1585.90,388.75L1587.40,385.91L1588.40,384.67L1588.90,384.25L1589.90,383.80L1590.90,383.88L1591.40,384.12L1592.40,385.02L1593.40,386.52L1593.90,387.51L1594.90,389.98L1596.40,394.85L1600.40,410.25L1604.30,424.30" stroke="#00ff00" stroke-width="4.4" fill="none" stroke-linejoin="round" stroke-linecap="butt"/>
<path d="M1068.76,198.30V175.10" stroke="#ff0000" stroke-width="3.6" fill="none"/>
<circle cx="1068.76" cy="175.10" r="13.9" stroke="#ff0000" stroke-width="3.6" fill="none"/>
<path d="M1336.67,198.30V175.10" stroke="#ff0000" stroke-width="3.6" fill="none"/>
<circle cx="1336.67" cy="175.10" r="13.9" stroke="#ff0000" stroke-width="3.6" fill="none"/>
<path d="M189.10,81.80H1680.50" stroke="#777777" stroke-width="3.4" fill="none"/>
<path d="M190.60,80.30V1258.30" stroke="#737373" stroke-width="3" fill="none"/>
<path d="M190.60,1255.50H1679.00" stroke="#a6a6a6" stroke-width="1.8" fill="none"/>
<path d="M190.60,1257.40H1680.50" stroke="#343434" stroke-width="2" fill="none"/>
<path d="M1677.80,83.30V1256.80" stroke="#bdbdbd" stroke-width="1.8" fill="none"/>
<path d="M1679.80,83.30V1258.30" stroke="#343434" stroke-width="2.2" fill="none"/>
<path d="M562.70,1255.80V1240.80 M562.70,82.80V97.80 M934.80,1255.80V1240.80 M934.80,82.80V97.80 M1306.90,1255.80V1240.80 M1306.90,82.80V97.80 M191.60,316.80H206.60 M1678.00,316.80H1663.00 M191.60,434.30H206.60 M1678.00,434.30H1663.00 M191.60,551.80H206.60 M1678.00,551.80H1663.00 M191.60,669.30H206.60 M1678.00,669.30H1663.00 M191.60,786.80H206.60 M1678.00,786.80H1663.00 M191.60,904.30H206.60 M1678.00,904.30H1663.00 M191.60,1021.80H206.60 M1678.00,1021.80H1663.00 M191.60,1139.30H206.60 M1678.00,1139.30H1663.00" stroke="#3a3a3a" stroke-width="2" fill="none"/>
<text x="149.30" y="94.30" font-family="Liberation Serif, serif" fill="#404040" font-size="46">5</text>
<text x="149.30" y="211.80" font-family="Liberation Serif, serif" fill="#404040" font-size="46">0</text>
<text x="149.30" y="329.30" font-family="Liberation Serif, serif" fill="#404040" font-size="46">5</text>
<text transform="translate(114.33,332.60) scale(1.3082,1)" font-family="Liberation Serif, serif" fill="#404040" font-size="46">−</text>
<text x="126.30" y="446.80" font-family="Liberation Serif, serif" fill="#404040" font-size="46">10</text>
<text transform="translate(91.33,450.10) scale(1.3082,1)" font-family="Liberation Serif, serif" fill="#404040" font-size="46">−</text>
<text x="126.30" y="564.30" font-family="Liberation Serif, serif" fill="#404040" font-size="46">15</text>
<text transform="translate(91.33,567.60) scale(1.3082,1)" font-family="Liberation Serif, serif" fill="#404040" font-size="46">−</text>
<text x="126.30" y="681.80" font-family="Liberation Serif, serif" fill="#404040" font-size="46">20</text>
<text transform="translate(91.33,685.10) scale(1.3082,1)" font-family="Liberation Serif, serif" fill="#404040" font-size="46">−</text>
<text x="126.30" y="799.30" font-family="Liberation Serif, serif" fill="#404040" font-size="46">25</text>
<text transform="translate(91.33,802.60) scale(1.3082,1)" font-family="Liberation Serif, serif" fill="#404040" font-size="46">−</text>
<text x="126.30" y="916.80" font-family="Liberation Serif, serif" fill="#404040" font-size="46">30</text>
<text transform="translate(91.33,920.10) scale(1.3082,1)" font-family="Liberation Serif, serif" fill="#404040" font-size="46">−</text>
<text x="126.30" y="1034.30" font-family="Liberation Serif, serif" fill="#404040" font-size="46">35</text>
<text transform="translate(91.33,1037.60) scale(1.3082,1)" font-family="Liberation Serif, serif" fill="#404040" font-size="46">−</text>
<text x="126.30" y="1151.80" font-family="Liberation Serif, serif" fill="#404040" font-size="46">40</text>
<text transform="translate(91.33,1155.10) scale(1.3082,1)" font-family="Liberation Serif, serif" fill="#404040" font-size="46">−</text>
<text x="126.30" y="1269.30" font-family="Liberation Serif, serif" fill="#404040" font-size="46">45</text>
<text transform="translate(91.33,1272.60) scale(1.3082,1)" font-family="Liberation Serif, serif" fill="#404040" font-size="46">−</text>
<text transform="translate(139.83,1316.80) scale(1.3082,1)" font-family="Liberation Serif, serif" fill="#404040" font-size="46">−</text>
<text x="173.29" y="1313.50" font-family="Liberation Serif, serif" fill="#404040" font-size="46">100</text>
<text transform="translate(523.43,1316.80) scale(1.3082,1)" font-family="Liberation Serif, serif" fill="#404040" font-size="46">−</text>
<text x="556.89" y="1313.50" font-family="Liberation Serif, serif" fill="#404040" font-size="46">50</text>
<text x="924.10" y="1313.50" font-family="Liberation Serif, serif" fill="#404040" font-size="46">0</text>
<text x="1284.70" y="1313.50" font-family="Liberation Serif, serif" fill="#404040" font-size="46">50</text>
<text x="1645.30" y="1313.50" font-family="Liberation Serif, serif" fill="#404040" font-size="46">100</text>
<text x="934.50" y="68.80" font-family='"Liberation Sans", Arial, sans-serif' font-weight="bold" font-size="50.7" fill="#000" text-anchor="middle">MUSIC Algorithm for DOA Estimation</text>
<text x="935.90" y="1384.50" font-family='"Liberation Sans", Arial, sans-serif' font-size="51" fill="#262626" text-anchor="middle">Direction of Arrival (degrees)</text>
<text transform="translate(65.50,668.30) rotate(-90)" font-family='"Liberation Sans", Arial, sans-serif' font-size="50.8" fill="#262626" text-anchor="middle">Normalized Spectrum (dB)</text>
<rect x="236.20" y="982.90" width="487.30" height="229.30" fill="#ffffff" stroke="#262626" stroke-width="2.2"/>
<path d="M249,1015.60H322" stroke="#ff0000" stroke-width="3.6" fill="none"/>
<circle cx="322" cy="1015.60" r="13.9" stroke="#ff0000" stroke-width="3.6" fill="none"/>
<text transform="translate(363.20,1032.10) scale(1,1.055)" font-family='"Liberation Sans", Arial, sans-serif' font-size="41" fill="#000">True DOA</text>
<path d="M249,1070.50H353" stroke="#0000ff" stroke-width="4.4" fill="none"/>
<text transform="translate(363.20,1087.00) scale(1,1.055)" font-family='"Liberation Sans", Arial, sans-serif' font-size="41" fill="#000">ULA</text>
<path d="M249,1124.60H353" stroke="#ff00ff" stroke-width="4.4" fill="none"/>
<text transform="translate(363.20,1141.10) scale(1,1.055)" font-family='"Liberation Sans", Arial, sans-serif' font-size="41" fill="#000">UCA</text>
<path d="M249,1178.40H353" stroke="#00ff00" stroke-width="4.4" fill="none"/>
<text transform="translate(363.20,1194.90) scale(1,1.055)" font-family='"Liberation Sans", Arial, sans-serif' font-size="41" fill="#000">Proposd Geometry</text></svg>
</body></html>
